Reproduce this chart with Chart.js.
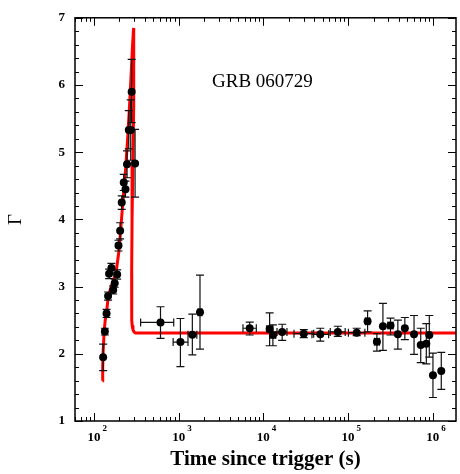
<!DOCTYPE html>
<html>
<head>
<meta charset="utf-8">
<script src="https://cdn.jsdelivr.net/npm/chart.js@4.4.1/dist/chart.umd.min.js"></script>
<style>
  html, body { margin: 0; padding: 0; background: #fff; }
</style>
</head>
<body>
<canvas id="gammaChart" width="460" height="474"></canvas>
<script>
// observed photon index, time in seconds since trigger
const obsTime  = [128.5, 134.6, 141, 147, 151, 161, 169, 176, 188, 195, 204, 213, 225, 236, 246, 258, 272, 279, 306,
                  611, 1050, 1452, 1787, 6900, 11860, 12970, 16680, 30000, 47000, 75700, 126500, 170000, 219000,
                  258000, 317000, 387000, 468000, 601000, 721000, 839000, 910000, 1005000, 1260000];
const obsGamma = [1.95, 2.33, 2.60, 2.86, 3.19, 3.275, 2.95, 3.05, 3.18, 3.61, 3.83, 4.25, 4.55, 4.45, 4.82, 5.33, 5.33, 5.90, 4.83,
                  2.467, 2.175, 2.285, 2.617, 2.38, 2.37, 2.28, 2.325, 2.30, 2.29, 2.325, 2.315, 2.486, 2.18,
                  2.41, 2.42, 2.29, 2.38, 2.29, 2.13, 2.15, 2.28, 1.68, 1.745];
const gammaLo  = [1.75, 2.28, 2.54, 2.80, 3.12, 3.205, 2.89, 2.99, 3.11, 3.53, 3.71, 4.15, 4.43, 4.33, 4.62, 5.05, 4.88, 5.44, 4.33,
                  2.23, 1.81, 1.985, 2.07, 2.28, 2.12, 2.12, 2.20, 2.24, 2.19, 2.26, 2.27, 2.325, 2.04,
                  2.05, 2.28, 2.07, 2.21, 1.99, 1.87, 1.85, 1.95, 1.35, 1.47];
const gammaHi  = [2.145, 2.38, 2.66, 2.92, 3.26, 3.345, 3.01, 3.11, 3.25, 3.69, 3.95, 4.35, 4.67, 4.57, 5.02, 5.62, 5.78, 6.38, 5.34,
                  2.70, 2.525, 2.59, 3.17, 2.47, 2.61, 2.43, 2.44, 2.36, 2.38, 2.41, 2.38, 2.64, 2.30,
                  2.75, 2.53, 2.50, 2.54, 2.57, 2.38, 2.45, 2.57, 2.01, 2.02];
// horizontal error bars (null = none drawn)
const timeLo   = [null, null, null, null, null, null, null, null, null, null, null, null, null, null, null, null, null, null, null,
                  356, 861, 1290, 1700, 5750, 11000, 12000, 14500, 23000, 37500, 61600, 101000, 160000, 205000,
                  null, 295000, null, null, null, null, null, null, null, null];
const timeHi   = [null, null, null, null, null, null, null, null, null, null, null, null, null, null, null, null, null, null, null,
                  875, 1290, 1640, 1880, 8260, 12800, 14000, 19000, 39300, 59000, 92500, 158000, 180000, 235000,
                  null, 340000, null, null, null, null, null, null, null, null];

// model curve (red)
const modelTime  = [126, 127, 128.5, 132, 136, 141, 148, 158, 168, 183, 198, 211, 225, 237, 250, 263, 276, 286, 294,
                    296, 294, 288, 282, 279, 279, 280, 283, 289, 298, 310, 1880000];
const modelGamma = [1.60, 1.80, 2.03, 2.33, 2.50, 2.62, 2.86, 2.98, 3.07, 3.22, 3.54, 3.98, 4.42, 4.76, 5.2, 5.68, 6.2, 6.6, 6.85,
                    6.4, 5.7, 4.8, 4.0, 3.2, 2.6, 2.5, 2.42, 2.36, 2.325, 2.31, 2.31];

const xMin = 59.8;
const xMax = 1.88e6;
const decades = [2, 3, 4, 5, 6];

const serif = "'Liberation Serif', 'Times New Roman', serif";

const errorBars = {
    id: 'errorBars',
    afterDatasetDraw(chart, args) {
        if (args.index !== 1) return;
        const ctx = chart.ctx;
        const x = chart.scales.x;
        const y = chart.scales.y;
        ctx.save();
        ctx.strokeStyle = '#111';
        ctx.lineWidth = 1.2;
        ctx.beginPath();
        for (let i = 0; i < obsTime.length; i++) {
            const px = x.getPixelForValue(obsTime[i]);
            const py = y.getPixelForValue(obsGamma[i]);
            const y1 = y.getPixelForValue(gammaLo[i]);
            const y2 = y.getPixelForValue(gammaHi[i]);
            ctx.moveTo(px, y1); ctx.lineTo(px, y2);
            ctx.moveTo(px - 4, y1); ctx.lineTo(px + 4, y1);
            ctx.moveTo(px - 4, y2); ctx.lineTo(px + 4, y2);
            if (timeLo[i] !== null) {
                const x1 = x.getPixelForValue(timeLo[i]);
                const x2 = x.getPixelForValue(timeHi[i]);
                ctx.moveTo(x1, py); ctx.lineTo(x2, py);
                ctx.moveTo(x1, py - 4); ctx.lineTo(x1, py + 4);
                ctx.moveTo(x2, py - 4); ctx.lineTo(x2, py + 4);
            }
        }
        ctx.stroke();
        ctx.restore();
    }
};

const frameTicks = {
    id: 'frameTicks',
    afterDraw(chart) {
        const ctx = chart.ctx;
        const a = chart.chartArea;
        const x = chart.scales.x;
        const y = chart.scales.y;
        ctx.save();
        ctx.strokeStyle = '#000';
        ctx.lineWidth = 1.5;
        ctx.strokeRect(a.left, a.top, a.right - a.left, a.bottom - a.top);

        ctx.lineWidth = 1;
        ctx.beginPath();
        // log ticks on bottom and top
        for (let d = 1; d <= 6; d++) {
            for (let m = 1; m <= 9; m++) {
                const v = m * Math.pow(10, d);
                if (v < xMin || v > xMax) continue;
                const px = Math.round(x.getPixelForValue(v)) + 0.5;
                const len = m === 1 ? 8 : 4;
                ctx.moveTo(px, a.bottom); ctx.lineTo(px, a.bottom - len);
                ctx.moveTo(px, a.top); ctx.lineTo(px, a.top + len);
            }
        }
        // linear ticks on left and right
        for (let i = 0; i <= 30; i++) {
            const py = Math.round(y.getPixelForValue(1 + i * 0.2)) + 0.5;
            const len = i % 5 === 0 ? 8 : 4;
            ctx.moveTo(a.left, py); ctx.lineTo(a.left + len, py);
            ctx.moveTo(a.right, py); ctx.lineTo(a.right - len, py);
        }
        ctx.stroke();

        // decade labels 10^n
        ctx.fillStyle = '#000';
        ctx.textBaseline = 'alphabetic';
        decades.forEach(function (d) {
            const px = x.getPixelForValue(Math.pow(10, d));
            ctx.font = 'bold 13px ' + serif;
            ctx.textAlign = 'center';
            ctx.fillText('10', px, a.bottom + 20);
            const w = ctx.measureText('10').width;
            ctx.font = 'bold 9px ' + serif;
            ctx.textAlign = 'left';
            ctx.fillText(String(d), px + w / 2 + 2, a.bottom + 10);
        });

        // burst name
        ctx.font = '19px ' + serif;
        ctx.textAlign = 'left';
        ctx.fillText('GRB 060729', a.left + 137, a.top + 69);
        ctx.restore();
    }
};

new Chart(document.getElementById('gammaChart').getContext('2d'), {
    type: 'scatter',
    data: {
        datasets: [{
            label: 'data',
            data: obsTime.map((t, i) => ({ x: t, y: obsGamma[i] })),
            backgroundColor: '#000',
            borderWidth: 0,
            pointRadius: 4,
            order: 0
        }, {
            label: 'model',
            type: 'line',
            data: modelTime.map((t, i) => ({ x: t, y: modelGamma[i] })),
            borderColor: 'rgb(255, 0, 0)',
            borderWidth: 3,
            pointRadius: 0,
            fill: false,
            tension: 0,
            order: 1
        }]
    },
    options: {
        responsive: false,
        animation: false,
        layout: { padding: { top: 10, right: 2, left: 0, bottom: 0 } },
        plugins: {
            legend: { display: false },
            tooltip: { enabled: false }
        },
        scales: {
            x: {
                type: 'logarithmic',
                min: xMin,
                max: xMax,
                grid: { display: false, drawTicks: false },
                border: { display: false },
                ticks: { display: false },
                title: {
                    display: true,
                    text: 'Time since trigger (s)',
                    color: '#000',
                    font: { family: serif, size: 21, weight: 'bold' },
                    padding: { top: 0, bottom: 2 }
                },
                afterFit(scale) { scale.height = 53; }
            },
            y: {
                min: 1,
                max: 7,
                grid: { display: false, drawTicks: false },
                border: { display: false },
                ticks: {
                    stepSize: 1,
                    padding: 10,
                    color: '#000',
                    font: { family: serif, size: 13, weight: 'bold' }
                },
                title: {
                    display: true,
                    text: 'Γ',
                    color: '#000',
                    font: { family: serif, size: 19 },
                    padding: { top: 5, bottom: 0 }
                },
                afterFit(scale) { scale.width = 75; }
            }
        }
    },
    plugins: [errorBars, frameTicks]
});
</script>
</body>
</html>
